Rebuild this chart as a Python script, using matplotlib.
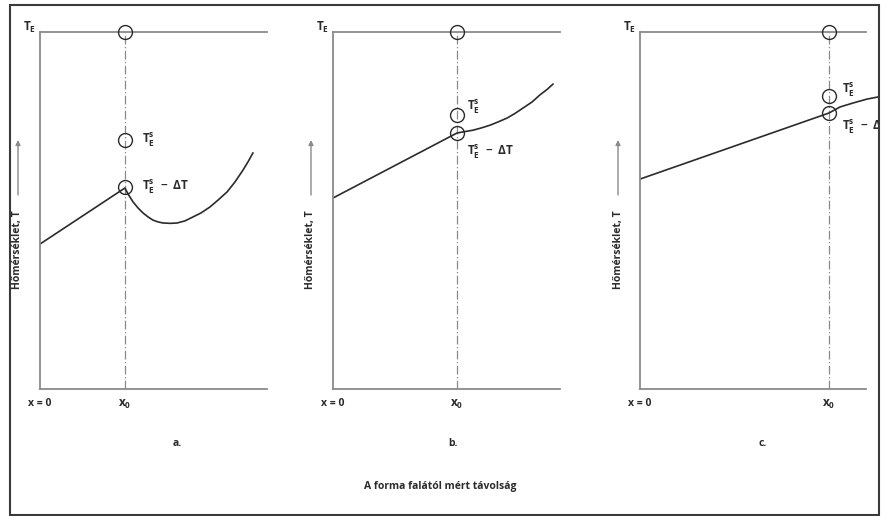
import matplotlib.pyplot as plt
from matplotlib.patches import Rectangle

plt.rcParams['font.family'] = ['Open Sans', 'DejaVu Sans']
plt.rcParams['font.weight'] = 'bold'
plt.rcParams['mathtext.fontset'] = 'custom'
plt.rcParams['mathtext.rm'] = 'Open Sans:bold'
plt.rcParams['mathtext.it'] = 'Open Sans:bold'
plt.rcParams['mathtext.default'] = 'rm'

# Distance from the mould wall: the drawn x axis runs from 0 to 1.
# Temperature: the drawn T axis runs from 0 to T_E = 1.
panel_names = ['a.', 'b.', 'c.']
te_level = 1.0
x0_pos = [0.374, 0.546, 0.836]
te_s = [0.697, 0.768, 0.821]
te_s_minus_dt = [0.566, 0.717, 0.773]

# actual temperature profiles ahead of the solid/liquid interface
curve_a_x = [0.0, 0.374, 0.388, 0.410, 0.432, 0.454, 0.476, 0.498, 0.520, 0.542, 0.573,
             0.604, 0.639, 0.674, 0.709, 0.749, 0.784, 0.824, 0.859, 0.894, 0.916, 0.938]
curve_a_t = [0.406, 0.563, 0.546, 0.524, 0.507, 0.493, 0.482, 0.473, 0.468, 0.465, 0.464,
             0.465, 0.471, 0.482, 0.493, 0.510, 0.529, 0.552, 0.580, 0.613, 0.636, 0.661]
curve_b_x = [0.0, 0.546, 0.581, 0.617, 0.652, 0.692, 0.727, 0.767, 0.802, 0.837, 0.877,
             0.912, 0.943, 0.969]
curve_b_t = [0.535, 0.717, 0.721, 0.725, 0.731, 0.739, 0.748, 0.759, 0.772, 0.787, 0.804,
             0.824, 0.839, 0.854]
curve_c_x = [0.0, 0.836, 0.885, 0.942, 1.004, 1.053]
curve_c_t = [0.588, 0.773, 0.790, 0.801, 0.812, 0.818]
curves = [(curve_a_x, curve_a_t), (curve_b_x, curve_b_t), (curve_c_x, curve_c_t)]

y_label = 'Hőmérséklet, T'
x_title = 'A forma falától mért távolság'

W, H = 885, 516
fig = plt.figure(figsize=(W / 100, H / 100), dpi=100)

axis_gray = '#8a8a8a'
ink = '#2b2b2b'
fs = 7.5
fs_t = 8.5

# pixel layout of each panel: y axis, end of x axis, right edge of drawing area
left_px = [40, 333, 640]
end_px = [267, 560, 866]
edge_px = [267, 560, 878]
top_px, bottom_px = 32, 389
letter_dx = [137, 120, 123]
upper_off = [(17, 0), (10, 8), (13, 6)]
lower_off = [(17, 0), (10, -19), (13, -14)]

for i in range(3):
    L, R, E = left_px[i], end_px[i], edge_px[i]
    ax = fig.add_axes([L / W, (H - bottom_px) / H, (E - L) / W, (bottom_px - top_px) / H])
    ax.set_xlim(0, (E - L) / (R - L))
    ax.set_ylim(0, te_level)
    ax.patch.set_visible(False)
    for s in ['top', 'right']:
        ax.spines[s].set_visible(False)
    for s in ['left', 'bottom']:
        ax.spines[s].set_color(axis_gray)
        ax.spines[s].set_linewidth(1.3)
    ax.spines['bottom'].set_bounds(0, 1)
    ax.set_xticks([])
    ax.set_yticks([])

    x0 = x0_pos[i]
    ax.plot([0, 1], [te_level, te_level], color=axis_gray, lw=1.3, clip_on=False)
    ax.plot([x0, x0], [0, te_level], color=axis_gray, lw=0.9, dashes=(7, 2, 1, 2))
    cx, ct = curves[i]
    ax.plot(cx, ct, color=ink, lw=1.2, solid_joinstyle='round')
    ax.plot([x0, x0, x0], [te_level, te_s[i], te_s_minus_dt[i]], 'o', ms=10,
            mfc='none', mec=ink, mew=1.0, clip_on=False)

    kw = dict(textcoords='offset pixels', fontsize=fs_t, color=ink, va='center', ha='left')
    t1 = ax.annotate(r'$T_E^s$', xy=(x0, te_s[i]), xytext=upper_off[i], **kw)
    t2 = ax.annotate(r'$T_E^s\ -\ \Delta T$', xy=(x0, te_s_minus_dt[i]), xytext=lower_off[i], **kw)
    for t in (t1, t2):
        t.set_clip_box(ax.bbox)
        t.set_clip_on(True)

    ax.annotate(r'$T_E$', xy=(0, te_level), xytext=(-4, 5), textcoords='offset pixels',
                fontsize=fs_t, color=ink, ha='right', va='center')
    ax.annotate('x = 0', xy=(0, 0), xytext=(0, -15), textcoords='offset pixels',
                fontsize=fs, color=ink, ha='center', va='center')
    ax.annotate(r'$x_0$', xy=(x0, 0), xytext=(0, -15), textcoords='offset pixels',
                fontsize=fs_t, color=ink, ha='center', va='center')
    ax.annotate(panel_names[i], xy=(letter_dx[i], -54), xycoords='axes pixels',
                fontsize=fs, color=ink, ha='center', va='center')

    # temperature axis label with an upward arrow
    ax.annotate(y_label, xy=(-22, bottom_px - 250), xycoords='axes pixels',
                fontsize=fs, color=ink, rotation=90, ha='center', va='center')
    ax.annotate('', xy=(-22, bottom_px - 140), xycoords='axes pixels',
                xytext=(-22, bottom_px - 195), textcoords='axes pixels',
                arrowprops=dict(arrowstyle='-|>', color=axis_gray, lw=1.0,
                                mutation_scale=7, shrinkA=0, shrinkB=0))

fig.text(440 / W, 1 - 487 / H, x_title, fontsize=fs, color=ink, ha='center', va='center')

frame = Rectangle((10 / W, 1 / H), 869 / W, 510 / H, transform=fig.transFigure,
                  fill=False, edgecolor='#3a3a3a', lw=1.5)
fig.patches.append(frame)

fig.savefig('out.png', dpi=100)
